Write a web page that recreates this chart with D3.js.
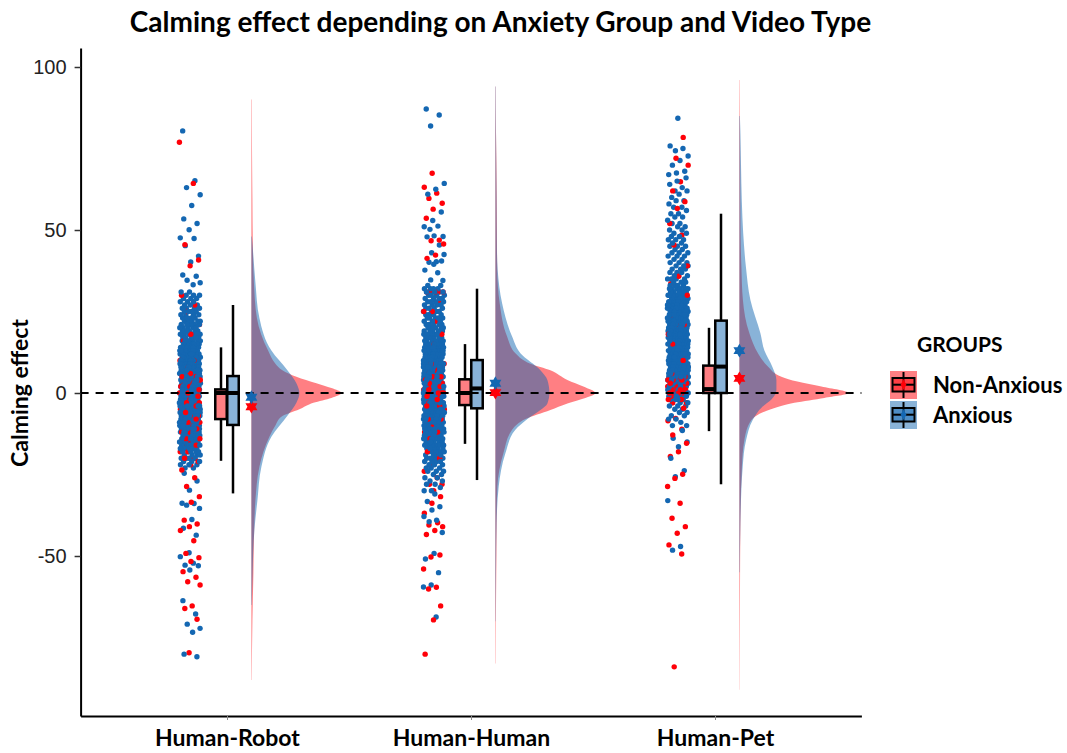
<!DOCTYPE html>
<html><head><meta charset="utf-8">
<script src="https://cdn.jsdelivr.net/npm/d3@7"></script>
<style>body{margin:0;background:#fff;} svg{display:block;}</style>
</head><body>
<svg id="chart" width="1067" height="753"></svg>
<script>
// ---------------- DATA ----------------
const categories = ["Human-Robot", "Human-Human", "Human-Pet"];
const groups = ["Non-Anxious", "Anxious"];
const yTicks = [100, 50, 0, -50];
const title = "Calming effect depending on Anxiety Group and Video Type";
const yLabel = "Calming effect";
const legendTitle = "GROUPS";

// box statistics per category (Non-Anxious / Anxious)
const boxNonAnxious = [
  {lo: -20.8, q1: -8.0, med: 0.0, q3: 1.1, hi: 14.0},
  {lo: -15.6, q1: -3.7, med: 0.0, q3: 4.2, hi: 15.0},
  {lo: -11.7, q1: 0.0, med: 1.2, q3: 8.4, hi: 20.0}
];
const boxAnxious = [
  {lo: -30.8, q1: -9.8, med: 0.0, q3: 5.2, hi: 27.0},
  {lo: -26.7, q1: -4.7, med: 1.4, q3: 10.1, hi: 32.0},
  {lo: -28.0, q1: 0.0, med: 8.1, q3: 22.2, hi: 55.0}
];
// group means (stars)
const meanNonAnxious = [-4.2, 0.1, 4.5];
const meanAnxious = [-1.3, 3.0, 13.0];

// half-violin density profiles: [value, relative density]
const densNonAnxious = [
  [[90,0.004],[75,0.006],[60,0.01],[44,0.015],[34,0.025],[23,0.055],[13,0.167],[9,0.24],[7,0.31],[5,0.45],[3,0.65],[1.5,0.8],[0,0.90],[-1.5,0.80],[-3,0.62],[-5,0.48],[-7.3,0.30],[-10,0.24],[-13.4,0.18],[-18,0.12],[-22.6,0.08],[-33,0.04],[-45,0.025],[-55,0.02],[-70,0.01],[-88,0.003]],
  [[94,0.003],[80,0.006],[71,0.01],[50,0.015],[38,0.018],[27.5,0.043],[17.3,0.117],[12.2,0.2],[9,0.35],[7,0.55],[4,0.72],[2,0.88],[0,1.0],[-2,0.85],[-3.2,0.72],[-5.2,0.55],[-8,0.3],[-11.3,0.167],[-18.5,0.08],[-28.7,0.02],[-40,0.012],[-50,0.01],[-65,0.006],[-83,0.003]],
  [[96,0.003],[80,0.006],[70,0.008],[49,0.012],[38.7,0.02],[28.5,0.035],[18.3,0.1],[12,0.19],[8,0.29],[5,0.42],[3.5,0.58],[2,0.82],[0,1.09],[-1.5,0.85],[-3,0.55],[-4.8,0.33],[-8.3,0.12],[-14.4,0.05],[-22.6,0.025],[-40,0.01],[-60,0.006],[-91,0.002]]
];
const densAnxious = [
  [[48,0.005],[44,0.015],[34,0.04],[23,0.08],[13,0.2],[7,0.36],[3,0.45],[0,0.48],[-3,0.45],[-7,0.36],[-13.4,0.2],[-22.6,0.10],[-33,0.06],[-42,0.03],[-55,0.012],[-65,0.004]],
  [[94,0.004],[80,0.006],[60,0.012],[45,0.015],[37.7,0.023],[27.5,0.067],[17.3,0.167],[12.2,0.25],[7,0.45],[4,0.52],[0,0.54],[-3.2,0.52],[-5.2,0.45],[-8,0.32],[-11.3,0.2],[-18.5,0.1],[-28.7,0.033],[-40,0.012],[-55,0.006],[-70,0.003]],
  [[85,0.005],[80,0.01],[70,0.016],[59,0.024],[49,0.038],[38.7,0.065],[28.5,0.11],[18.3,0.21],[13,0.25],[8,0.33],[4,0.37],[1,0.37],[-2,0.32],[-4.2,0.23],[-8.3,0.133],[-14.4,0.067],[-22.6,0.033],[-40,0.01],[-55,0.004]]
];

// individual scores: sparse tail values, and dense core as [value, count]
const tailNonAnxious = [
  [76.9,64.3,45.5,40.8,39.0,-23.6,-26,-28.7,-31.8,-33.5,-39.0,-40.2,-41,-42.2,-45.3,-49.2,-50.5,-51.7,-54.8,-56.5,-57.9,-58.9,-65.3,-66.1,-69.4,-79.7],
  [67.4,63.1,61.3,59.7,58.2,56.4,53.6,46.9,46.7,45.7,42.3,41.3,-31.8,-33.8,-36.9,-39.8,-40.5,-41.0,-42.2,-43.4,-49.7,-50.3,-54.0,-59.6,-60.1,-65.3,-69.6,-80.1],
  [78.4,72.0,69.9,64.8,62.0,58.7,56.6,52.0,48.5,45.4,39.0,35.8,33.5,-4.7,-7.8,-8.5,-11.1,-12.9,-15.4,-18.0,-19.5,-24.9,-26.2,-28.7,-33.8,-38.4,-41.0,-43.0,-46.6,-49.4,-84.0]
];
const tailAnxious = [
  [80.4,65.1,63.0,60.8,57.5,53.4,52.0,50.1,47.6,47.4,45.2,42.0,40.2,36.2,35.8,34.6,33.8,33.2,-24.6,-27,-29.8,-33.8,-33.9,-34.4,-35.4,-38.8,-41.5,-43.6,-49.0,-50.2,-52.2,-52.8,-53.0,-54.3,-63.7,-67.8,-70.9,-72.2,-73.4,-80.1,-80.9],
  [87.1,85.3,81.9,64.3,62.5,61.0,55.5,52.9,51.0,51.2,50.2,48.0,48.2,47.9,45.4,43.0,42.5,40.3,40.1,40.5,39.5,37.7,36.9,34.7,34.5,-31,-33.3,-34.9,-35.9,-37.9,-39.0,-39.5,-42.8,-49.2,-50.9,-55.1,-58.9,-59.5,-68.7],
  [84.3,75.8,75.0,74.3,72.7,71.3,69.9,68.0,67.5,67.0,-11.5,-13.9,-15.0,-16.5,-20.0,-23.8,-25.7,-33.0,-47.1,-48.2]
];
const coreNonAnxious = [
  [[30,1],[27,1],[25,1],[21,1],[18,1],[16,1],[14,1],[12,1],[10,2],[8,1],[6,2],[5,2],[4,2],[3,2],[2,3],[1,3],[0,5],[-1,3],[-2,3],[-3,3],[-4,2],[-5,2],[-6,2],[-7,2],[-8,2],[-9,2],[-10,2],[-11,1],[-12,2],[-13,1],[-14,2],[-15,1],[-16,2],[-18,2],[-20,2],[-21,1],[-22,1]],
  [[31,5],[28,1],[25,2],[22,1],[20,1],[18,1],[15,1],[13,1],[11,1],[9,2],[7,2],[5,2],[4,2],[3,3],[2,3],[1,3],[0,6],[-1,3],[-2,3],[-3,3],[-4,2],[-5,2],[-6,1],[-8,2],[-10,1],[-12,2],[-14,1],[-16,1],[-18,2],[-20,1],[-22,1],[-24,1],[-26,1],[-28,2],[-30,1]],
  [[30,1],[27,1],[24,1],[21,2],[18,1],[15,2],[12,2],[10,2],[8,2],[6,2],[5,2],[4,3],[3,3],[2,3],[1,4],[0,5],[-1,3],[-2,2],[-3,2]]
];
const coreAnxious = [
  [[31,2],[30,3],[29,3],[28,3],[27,3],[26,4],[25,4],[24,4],[23,4],[22,5],[21,5],[20,5],[19,6],[18,6],[17,6],[16,7],[15,7],[14,8],[13,8],[12,9],[11,8],[10,9],[9,9],[8,9],[7,9],[6,9],[5,9],[4,9],[3,9],[2,9],[1,9],[0,10],[-1,9],[-2,9],[-3,9],[-4,9],[-5,9],[-6,9],[-7,9],[-8,9],[-9,8],[-10,8],[-11,8],[-12,8],[-13,7],[-14,7],[-15,7],[-16,6],[-17,6],[-18,5],[-19,4],[-20,4],[-21,3],[-22,3],[-23,2]],
  [[33,2],[32,4],[31,4],[30,4],[29,4],[28,4],[27,4],[26,4],[25,4],[24,4],[23,5],[22,4],[21,5],[20,5],[19,5],[18,6],[17,6],[16,6],[15,7],[14,7],[13,8],[12,8],[11,8],[10,9],[9,9],[8,9],[7,9],[6,9],[5,9],[4,9],[3,9],[2,9],[1,9],[0,10],[-1,9],[-2,9],[-3,9],[-4,9],[-5,9],[-6,9],[-7,9],[-8,9],[-9,8],[-10,8],[-11,8],[-12,7],[-13,7],[-14,7],[-15,6],[-16,6],[-17,5],[-18,5],[-19,4],[-20,4],[-21,4],[-22,3],[-23,3],[-24,3],[-25,2],[-26,2],[-27,2],[-28,2],[-29,1],[-30,2]],
  [[66,1],[65,1],[64,1],[63,1],[62,2],[61,1],[60,1],[59,2],[58,1],[57,2],[56,1],[55,2],[54,2],[53,1],[52,2],[51,2],[50,2],[49,2],[48,2],[47,3],[46,2],[45,3],[44,2],[43,3],[42,3],[41,2],[40,3],[39,3],[38,3],[37,3],[36,3],[35,4],[34,3],[33,4],[32,6],[31,6],[30,7],[29,7],[28,8],[27,8],[26,8],[25,8],[24,8],[23,8],[22,8],[21,8],[20,8],[19,8],[18,8],[17,8],[16,8],[15,8],[14,8],[13,8],[12,8],[11,8],[10,8],[9,8],[8,8],[7,8],[6,8],[5,8],[4,8],[3,8],[2,8],[1,8],[0,8],[-1,5],[-2,4],[-3,3],[-4,3],[-5,2],[-6,2],[-7,2],[-8,2],[-9,1],[-10,2]]
];

// ---------------- STYLE ----------------
const colRed = "#FF0008", colBlue = "#1467B2";
const FONT = "Lato, sans-serif";

const svg = d3.select("#chart");
const x = d3.scaleLinear().domain([0.4, 3.6]).range([80.6, 861.4]);
const y = d3.scaleLinear().domain([-99.08, 105.83]).range([716, 48]);
const dens = d3.scaleLinear().domain([0, 1]).range([0, 100 / 244]); // density -> x units

const OFF_POINTS = -0.152, JIT = 0.086, OFF_BOX = 0.0246, BOX_W = 0.047, OFF_VIO = 0.1;
// deterministic horizontal jitter (position only, like geom_jitter)
const hash = n => { const s = Math.sin(n * 78.233 + 4.1414) * 43758.5453; return s - Math.floor(s); };
const GOLD = 0.6180339887;

// -------- points --------
const gPts = svg.append("g");
categories.forEach((c, ci) => {
  const pts = [];
  const add = (v, g) => pts.push({v, g});
  tailNonAnxious[ci].forEach(v => add(v, 0));
  coreNonAnxious[ci].forEach(([v, n]) => { for (let k = 0; k < n; k++) add(v, 0); });
  tailAnxious[ci].forEach(v => add(v, 1));
  coreAnxious[ci].forEach(([v, n]) => { for (let k = 0; k < n; k++) add(v, 1); });
  pts.forEach((p, i) => {
    const id = i + ci * 1009;
    const fx = (i * GOLD + ci * 0.37 + 0.06 * hash(id)) % 1;
    p.xv = ci + 1 + OFF_POINTS + (fx - 0.5) * JIT;
    p.order = (i * 0.7548776662 + 0.13) % 1;   // interleaved drawing order
  });
  pts.sort((a, b) => a.order - b.order);
  gPts.selectAll(null).data(pts).enter().append("circle")
    .attr("cx", d => x(d.xv)).attr("cy", d => y(d.v)).attr("r", 2.7)
    .attr("fill", d => d.g === 0 ? colRed : colBlue);
});

// -------- violins --------
const gVio = svg.append("g");
categories.forEach((c, ci) => {
  const base = ci + 1 + OFF_VIO;
  [[densNonAnxious[ci], colRed], [densAnxious[ci], colBlue]].forEach(([prof, col]) => {
    const area = d3.area()
      .y(d => y(d[0]))
      .x0(x(base))
      .x1(d => x(base + dens(d[1])))
      .curve(d3.curveMonotoneY);
    gVio.append("path").attr("d", area(prof.slice().sort((a, b) => b[0] - a[0])))
      .attr("fill", col).attr("fill-opacity", 0.5);
  });
});

// -------- boxes --------
const gBox = svg.append("g");
categories.forEach((c, ci) => {
  [[boxNonAnxious[ci], colRed, -OFF_BOX], [boxAnxious[ci], colBlue, OFF_BOX]].forEach(([b, col, off]) => {
    const cx = ci + 1 + off;
    gBox.append("line").attr("x1", x(cx)).attr("x2", x(cx)).attr("y1", y(b.hi)).attr("y2", y(b.q3))
      .attr("stroke", "#000").attr("stroke-width", 2.5);
    gBox.append("line").attr("x1", x(cx)).attr("x2", x(cx)).attr("y1", y(b.q1)).attr("y2", y(b.lo))
      .attr("stroke", "#000").attr("stroke-width", 2.5);
    const bx = x(cx - BOX_W / 2), bw = x(cx + BOX_W / 2) - x(cx - BOX_W / 2);
    gBox.append("rect").attr("x", bx).attr("width", bw)
      .attr("y", y(b.q3)).attr("height", y(b.q1) - y(b.q3)).attr("fill", "#fff");
    gBox.append("rect").attr("x", bx).attr("width", bw)
      .attr("y", y(b.q3)).attr("height", y(b.q1) - y(b.q3))
      .attr("fill", col).attr("fill-opacity", 0.5).attr("stroke", "#000").attr("stroke-width", 2.5);
    gBox.append("line").attr("x1", bx).attr("x2", bx + bw)
      .attr("y1", y(b.med)).attr("y2", y(b.med)).attr("stroke", "#000").attr("stroke-width", 4);
  });
});

// -------- zero reference line --------
svg.append("line").attr("x1", x(0.4)).attr("x2", x(3.6)).attr("y1", y(0)).attr("y2", y(0))
  .attr("stroke", "#000").attr("stroke-width", 2).attr("stroke-dasharray", "8,7");

// -------- mean stars (hexagram) --------
const hexagram = {
  draw(ctx, size) {
    const r = Math.sqrt(size / 2);
    for (let t = 0; t < 2; t++) {
      for (let k = 0; k < 3; k++) {
        const a = (t === 0 ? -Math.PI / 2 : Math.PI / 2) + k * 2 * Math.PI / 3;
        const px = r * Math.cos(a), py = r * Math.sin(a);
        if (k === 0) ctx.moveTo(px, py); else ctx.lineTo(px, py);
      }
      ctx.closePath();
    }
  }
};
const gStar = svg.append("g");
categories.forEach((c, ci) => {
  [[meanNonAnxious[ci], colRed], [meanAnxious[ci], colBlue]].forEach(([m, col]) => {
    gStar.append("path").attr("d", d3.symbol(hexagram, 95)())
      .attr("transform", `translate(${x(ci + 1 + OFF_VIO)},${y(m)})`)
      .attr("fill", col);
  });
});

// -------- axes --------
const yAxis = d3.axisLeft(y).tickValues(yTicks).tickFormat(d => String(d))
  .tickSize(6).tickSizeOuter(0).tickPadding(8);
const gy = svg.append("g").attr("transform", `translate(${x(0.4)},0)`).call(yAxis);
gy.select(".domain").attr("stroke", "#000").attr("stroke-width", 2);
gy.selectAll(".tick line").attr("stroke", "#333").attr("stroke-width", 1.5);
gy.selectAll(".tick text").attr("font-family", "'Liberation Sans', Arial, sans-serif")
  .attr("font-size", 20).attr("fill", "#222");

const xAxis = d3.axisBottom(x).tickValues([1, 2, 3]).tickFormat(d => categories[d - 1])
  .tickSize(4).tickSizeOuter(0).tickPadding(10);
const gx = svg.append("g").attr("transform", `translate(0,716)`).call(xAxis);
gx.select(".domain").attr("stroke", "#000").attr("stroke-width", 2);
gx.selectAll(".tick line").attr("stroke", "#888").attr("stroke-width", 1);
gx.selectAll(".tick text").attr("font-family", FONT).attr("font-weight", 700)
  .attr("font-size", 23).attr("fill", "#000");

// -------- titles --------
svg.append("text").attr("x", 500.5).attr("y", 32).attr("text-anchor", "middle")
  .attr("font-family", FONT).attr("font-weight", 700).attr("font-size", 28)
  .attr("fill", "#000").text(title);
svg.append("text").attr("transform", `translate(28,${y(0)}) rotate(-90)`).attr("text-anchor", "middle")
  .attr("font-family", FONT).attr("font-weight", 700).attr("font-size", 23)
  .attr("fill", "#000").text(yLabel);

// -------- legend --------
const gLeg = svg.append("g");
gLeg.append("text").attr("x", 917).attr("y", 352).attr("font-family", FONT)
  .attr("font-weight", 700).attr("font-size", 21).attr("fill", "#000").text(legendTitle);
groups.forEach((g, gi) => {
  const col = gi === 0 ? colRed : colBlue;
  const top = 371 + gi * 30;
  const k = gLeg.append("g").attr("transform", `translate(890,${top})`);
  k.append("rect").attr("width", 27).attr("height", 28).attr("fill", col).attr("fill-opacity", 0.5);
  k.append("line").attr("x1", 13.5).attr("x2", 13.5).attr("y1", 1).attr("y2", 27).attr("stroke", "#000").attr("stroke-width", 2);
  k.append("rect").attr("x", 2.5).attr("y", 7).attr("width", 22).attr("height", 13.5)
    .attr("fill", col).attr("fill-opacity", 0.5).attr("stroke", "#000").attr("stroke-width", 2);
  k.append("line").attr("x1", 2.5).attr("x2", 24.5).attr("y1", 13.7).attr("y2", 13.7).attr("stroke", "#000").attr("stroke-width", 2);
  k.append("path").attr("d", d3.symbol(d3.symbolDiamond, 30)()).attr("transform", "translate(13.5,13.7)").attr("fill", col);
  gLeg.append("text").attr("x", 933).attr("y", top + 22).attr("font-family", FONT)
    .attr("font-weight", 700).attr("font-size", 22).attr("fill", "#000").text(g);
});
</script>
</body></html>
